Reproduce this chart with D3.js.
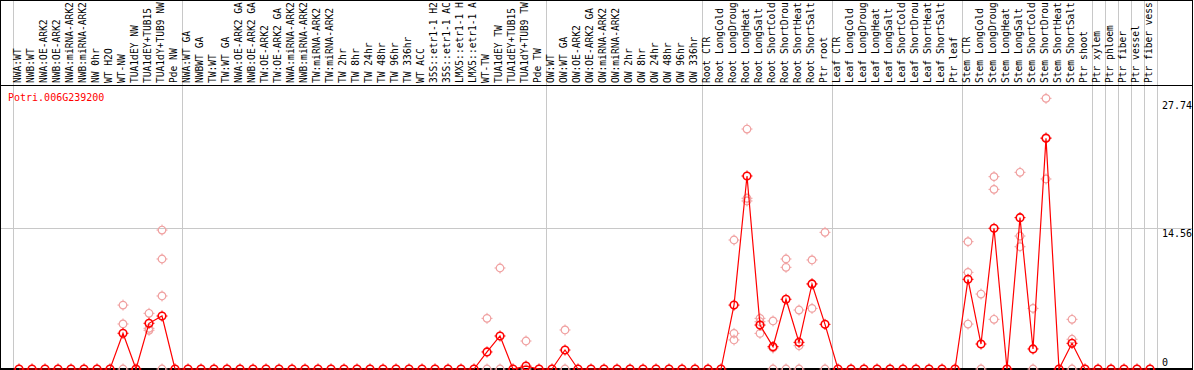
<!DOCTYPE html>
<html>
<head>
<meta charset="utf-8">
<script src="https://cdn.jsdelivr.net/npm/d3@7"></script>
<style>
  body { margin: 0; background: #fff; }
  svg { display: block; }
  text { font-family: 'DejaVu Sans Mono', monospace; font-size: 10px; }
  text.cat { font-size: 9.6px; }
</style>
</head>
<body>
<div id="chart"></div>
<script>
var gene = 'Potri.006G239200'

var categories = [
  'NWA:WT', 'NWB:WT', 'NWA:OE-ARK2', 'NWB:OE-ARK2', 'NWA:miRNA-ARK2', 'NWB:miRNA-ARK2',
  'NW 0hr', 'WT H2O', 'WT-NW', 'TUA1dEY NW', 'TUA1dEY+TUB15', 'TUA1dY+TUB9 NW', 'Pde NW',
  'NWA:WT GA', 'NWBWT GA', 'TW:WT', 'TW:WT GA', 'NWA:OE-ARK2 GA', 'NWB:OE-ARK2 GA',
  'TW:OE-ARK2', 'TW:OE-ARK2 GA', 'NWA:miRNA-ARK2', 'NWB:miRNA-ARK2', 'TW:miRNA-ARK2',
  'TW:miRNA-ARK2', 'TW 2hr', 'TW 8hr', 'TW 24hr', 'TW 48hr', 'TW 96hr', 'TW 336hr',
  'WT ACC', '35S::etr1-1 H2', '35S::etr1-1 AC', 'LMX5::etr1-1 H', 'LMX5::etr1-1 A',
  'WT-TW', 'TUA1dEY TW', 'TUA1dEY+TUB15', 'TUA1dY+TUB9 TW', 'Pde TW',
  'OW:WT', 'OW:WT GA', 'OW:OE-ARK2', 'OW:OE-ARK2 GA', 'OW:miRNA-ARK2', 'OW:miRNA-ARK2',
  'OW 2hr', 'OW 8hr', 'OW 24hr', 'OW 48hr', 'OW 96hr', 'OW 336hr',
  'Root CTR', 'Root LongCold', 'Root LongDroug', 'Root LongHeat', 'Root LongSalt',
  'Root ShortCold', 'Root ShortDrou', 'Root ShortHeat', 'Root ShortSalt', 'Ptr root',
  'Leaf CTR', 'Leaf LongCold', 'Leaf LongDroug', 'Leaf LongHeat', 'Leaf LongSalt',
  'Leaf ShortCold', 'Leaf ShortDrou', 'Leaf ShortHeat', 'Leaf ShortSalt', 'Ptr leaf',
  'Stem CTR', 'Stem LongCold', 'Stem LongDroug', 'Stem LongHeat', 'Stem LongSalt',
  'Stem ShortCold', 'Stem ShortDrou', 'Stem ShortHeat', 'Stem ShortSalt', 'Ptr shoot',
  'Ptr xylem', 'Ptr phloem', 'Ptr fiber', 'Ptr vessel', 'Ptr fiber vess'
]

// index of the first category of each group (grid line drawn before it)
var groupStarts = [0, 13, 41, 53, 63, 73, 83, 84, 85, 86, 87, 88]

// mean expression per category
var means = [
  0, 0, 0, 0, 0, 0, 0, 0, 3.69, 0, 4.72, 5.47, 0,
  0, 0, 0, 0, 0, 0, 0, 0, 0, 0, 0, 0, 0, 0, 0, 0, 0, 0,
  0, 0, 0, 0, 0, 1.76, 3.41, 0, 0.3, 0,
  0, 1.96, 0, 0, 0, 0, 0, 0, 0, 0, 0, 0,
  0, 0, 6.6, 19.93, 4.54, 2.31, 7.2, 2.75, 8.78, 4.61,
  0, 0, 0, 0, 0, 0, 0, 0, 0, 0,
  9.26, 2.58, 14.53, 0, 15.63, 2.07, 23.82, 0, 2.65, 0,
  0, 0, 0, 0, 0
]

// replicate values, only for categories where they show above zero
var repCategories = [
  'WT-NW', 'TUA1dEY+TUB15', 'TUA1dY+TUB9 NW', 'WT-TW', 'TUA1dEY TW',
  'TUA1dY+TUB9 TW', 'OW:WT GA', 'Root LongDroug', 'Root LongHeat', 'Root LongSalt',
  'Root ShortCold', 'Root ShortDrou', 'Root ShortHeat', 'Root ShortSalt', 'Ptr root',
  'Stem CTR', 'Stem LongCold', 'Stem LongDroug', 'Stem LongSalt', 'Stem ShortCold',
  'Stem ShortDrou', 'Stem ShortSalt'
]
var repIndex = [8, 10, 11, 36, 37, 39, 42, 55, 56, 57, 58, 59, 60, 61, 62, 73, 74, 75, 77, 78, 79, 81]
var repValues = [
  [6.6, 4.65, 0],
  [5.75, 4.2, 4.0],
  [14.35, 11.36, 7.54, 0],
  [5.23, 0],
  [10.43, 0],
  [2.89, 0],
  [4.03, 0],
  [13.32, 3.68, 3.0],
  [24.78, 17.63, 17.35],
  [5.23, 4.88, 3.68],
  [4.96, 2.17, 0],
  [11.36, 10.5, 0],
  [6.09, 2.41, 0],
  [11.26, 6.26, 8.8],
  [14.11, 0],
  [13.15, 9.98, 4.64],
  [7.74, 0],
  [19.86, 18.55, 5.13],
  [20.31, 13.73, 12.63],
  [6.26, 0],
  [27.95, 19.62, 23.9],
  [5.13, 3.07, 0]
]

var yTicks = [0, 14.56, 27.74]
var yMax = 29.12

var width = 1194
var height = 370
var labelBottom = 85
var plotBottom = 369

var x = d3.scaleLinear().domain([0, 1]).range([19, 32])
var y = d3.scaleLinear().domain([0, yMax]).range([plotBottom, 87])

var svg = d3.select('#chart').append('svg')
    .attr('width', width)
    .attr('height', height)

// vertical group lines
svg.selectAll('.vgrid')
    .data(groupStarts)
  .enter().append('line')
    .attr('class', 'vgrid')
    .attr('x1', d => Math.round(x(d - 0.5)) + 0.5)
    .attr('x2', d => Math.round(x(d - 0.5)) + 0.5)
    .attr('y1', 0)
    .attr('y2', plotBottom)
    .attr('stroke', '#c8c8c8')

// horizontal mid line
svg.append('line')
    .attr('x1', 1)
    .attr('x2', 1192)
    .attr('y1', Math.round(y(yTicks[1])) + 0.5)
    .attr('y2', Math.round(y(yTicks[1])) + 0.5)
    .attr('stroke', '#c8c8c8')

// frame
svg.append('rect')
    .attr('x', 0.5)
    .attr('y', 0.5)
    .attr('width', 1192)
    .attr('height', plotBottom)
    .attr('fill', 'none')
    .attr('stroke', '#000')
svg.append('line')
    .attr('x1', 0).attr('x2', 1193)
    .attr('y1', labelBottom + 0.5).attr('y2', labelBottom + 0.5)
    .attr('stroke', '#000')
svg.append('line')
    .attr('x1', 0).attr('x2', 1193)
    .attr('y1', plotBottom).attr('y2', plotBottom)
    .attr('stroke', '#000')
    .attr('stroke-width', 2)

// category labels
svg.selectAll('.cat')
    .data(categories)
  .enter().append('text')
    .attr('class', 'cat')
    .attr('transform', (d, i) => `translate(${x(i) + 2},${labelBottom - 2}) rotate(-90)`)
    .attr('fill', '#000')
    .text(d => d)

// y labels
svg.selectAll('.ylab')
    .data(yTicks)
  .enter().append('text')
    .attr('class', 'ylab')
    .attr('x', 1162)
    .attr('y', d => d === 0 ? plotBottom - 3 : y(d) + 9)
    .attr('fill', '#000')
    .text(d => d)

svg.append('text')
    .attr('x', 8)
    .attr('y', 101)
    .attr('fill', '#ff0000')
    .text(gene)

function marker (g, color, sw) {
  g.append('circle')
      .attr('r', 3.8)
      .attr('fill', 'none')
      .attr('stroke', color)
      .attr('stroke-width', sw)
  g.append('path')
      .attr('d', 'M0,-5.5V-3.5M0,3.5V5.5M-5.5,0H-3.5M3.5,0H5.5')
      .attr('stroke', color)
      .attr('stroke-width', 1)
}

// replicate points
var reps = []
repIndex.forEach(function (ci, k) {
  repValues[k].forEach(function (v) { reps.push({i: ci, v: v}) })
})

svg.selectAll('.rep')
    .data(reps)
  .enter().append('g')
    .attr('class', 'rep')
    .attr('transform', d => `translate(${x(d.i)},${y(d.v)})`)
    .each(function () { marker(d3.select(this), '#f0a0a0', 1.2) })

// mean line
var line = d3.line()
    .x((d, i) => x(i))
    .y(d => y(d))

svg.append('path')
    .datum(means)
    .attr('d', line)
    .attr('fill', 'none')
    .attr('stroke', '#ff0000')
    .attr('stroke-width', 1.2)

svg.selectAll('.pt')
    .data(means)
  .enter().append('g')
    .attr('class', 'pt')
    .attr('transform', (d, i) => `translate(${x(i)},${y(d)})`)
    .each(function () { marker(d3.select(this), '#ff0000', 1.6) })
</script>
</body>
</html>
